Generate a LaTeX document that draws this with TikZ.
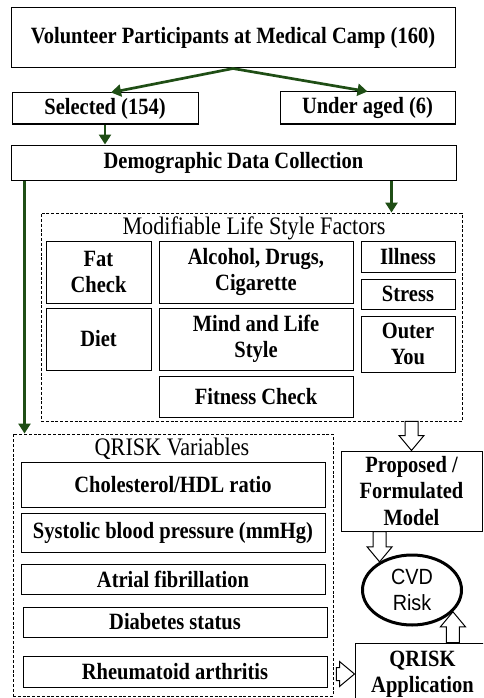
\documentclass[tikz,border=0pt]{standalone}
\usepackage{fontspec}
\setmainfont{Liberation Serif}[FakeStretch=0.88]
\setsansfont{Liberation Sans}[FakeStretch=0.9]
\usetikzlibrary{arrows.meta,calc,shapes.geometric}
\definecolor{arrowgreen}{RGB}{31,78,21}
\newcommand{\bfboxfont}{\fontsize{23.3}{26.3}\selectfont\bfseries}
\newcommand{\titlefont}{\fontsize{25.2}{28}\selectfont}
\newcommand{\blkarrow}[2]{%
  \draw[line width=1pt, fill=white, line join=miter]
    let \p1=(#1), \p2=(#2),
        \n1={atan2(\y2-\y1,\x2-\x1)},
        \n2={veclen(\x2-\x1,\y2-\y1)} in
    [shift={(\p1)}, rotate=\n1]
    (0pt,-6.5pt) -- ({\n2*1pt-15pt},-6.5pt) -- ({\n2*1pt-15pt},-12.5pt)
    -- ({\n2*1pt},0pt) -- ({\n2*1pt-15pt},12.5pt) -- ({\n2*1pt-15pt},6.5pt)
    -- (0pt,6.5pt) -- cycle;}
\tikzset{
  box/.style={draw, line width=1pt, font=\bfboxfont, align=center, inner sep=0pt},
  dbox/.style={draw, dash pattern=on 3pt off 1.8pt, line width=0.9pt, inner sep=0pt},
  garrow/.style={draw=arrowgreen, line width=2.7pt, -{Triangle[length=10pt,width=12pt]}},
  gline/.style={draw=arrowgreen, line width=2.7pt}
}
\begin{document}
\begin{tikzpicture}[x=1pt,y=-1pt]
\useasboundingbox (0,0) rectangle (483,698);
\clip (0,0) rectangle (483,698);
% top section
\node[box, minimum width=444pt, minimum height=60pt] (top) at (233,38) {Volunteer Participants at Medical Camp (160)};
\node[box, minimum width=186pt, minimum height=31pt] (sel) at (105,108.5) {Selected (154)};
\node[box, minimum width=175pt, minimum height=32pt] (under) at (367.5,108) {Under aged (6)};
\node[box, minimum width=445pt, minimum height=35pt] (demo) at (233.5,162.5) {Demographic Data Collection};
% modifiable factors
\node[dbox, minimum width=421pt, minimum height=208pt] (mod) at (251.5,317) {};
\node[font=\titlefont, inner sep=0pt] (modtitle) at (254,228) {Modifiable Life Style Factors};
\node[box, minimum width=105pt, minimum height=62pt] (fat) at (98.5,272) {Fat\\Check};
\node[box, minimum width=194pt, minimum height=62pt] (alc) at (256,272) {Alcohol, Drugs,\\Cigarette};
\node[box, minimum width=94pt, minimum height=31pt] (ill) at (408,256.5) {Illness};
\node[box, minimum width=94pt, minimum height=30pt] (str) at (408,294) {Stress};
\node[box, minimum width=94pt, minimum height=56pt] (outer) at (408,344) {Outer\\You};
\node[box, minimum width=105pt, minimum height=62pt] (diet) at (98.5,339) {Diet};
\node[box, minimum width=194pt, minimum height=62pt] (mind) at (256,339) {Mind and Life\\Style};
\node[box, minimum width=194pt, minimum height=41pt] (fit) at (256,396.5) {Fitness Check};
% QRISK variables
\node[dbox, minimum width=320pt, minimum height=262pt] (qvar) at (173,565) {};
\node[font=\titlefont, inner sep=0pt] (qtitle) at (172,449) {QRISK Variables};
\node[box, minimum width=304pt, minimum height=45pt] (chol) at (173,484.5) {Cholesterol/HDL ratio};
\node[box, minimum width=304pt, minimum height=39pt] (sys) at (173,532.5) {Systolic blood pressure (mmHg)};
\node[box, minimum width=304pt, minimum height=30pt] (atr) at (173,579) {Atrial fibrillation};
\node[box, minimum width=304pt, minimum height=30pt] (dia) at (175,622) {Diabetes status};
\node[box, minimum width=304pt, minimum height=31pt] (rheu) at (175,671.5) {Rheumatoid arthritis};
% right column
\node[box, minimum width=141pt, minimum height=80pt] (prop) at (411.5,491) {Proposed /\\Formulated\\Model};
\node[draw, ellipse, line width=3pt, minimum width=99pt, minimum height=70pt, inner sep=0pt, align=center,
      font=\sffamily\fontsize{22}{26.5}\selectfont] (cvd) at (412,590) {CVD\\Risk};
\node[box, minimum width=135pt, minimum height=62pt] (qapp) at (422.5,674) {QRISK\\Application};
% green connectors
\draw[garrow] (top.south) -- ($(sel.north)+(6,0)$);
\draw[garrow] (top.south) -- (under.north);
\draw[garrow] (sel.south) -- (sel.south |- demo.north);
\coordinate (leftstart) at ($(demo.south west)+(14,0)$);
\coordinate (rightstart) at ($(demo.south west)+(381,0)$);
\draw[garrow] (leftstart) -- (leftstart |- qvar.north);
\draw[garrow] (rightstart) -- (rightstart |- mod.north);
% hollow block arrows
\coordinate (a1s) at (prop.north |- mod.south);
\blkarrow{a1s}{prop.north}
\coordinate (a2s) at (prop.south -| cvd.139);
\blkarrow{a2s}{cvd.139}
\coordinate (a3s) at (qapp.north -| cvd.332);
\blkarrow{a3s}{cvd.332}
\coordinate (a4s) at ($(qvar.east |- qapp.west)+(3,0)$);
\blkarrow{a4s}{qapp.west}
\end{tikzpicture}
\end{document}
